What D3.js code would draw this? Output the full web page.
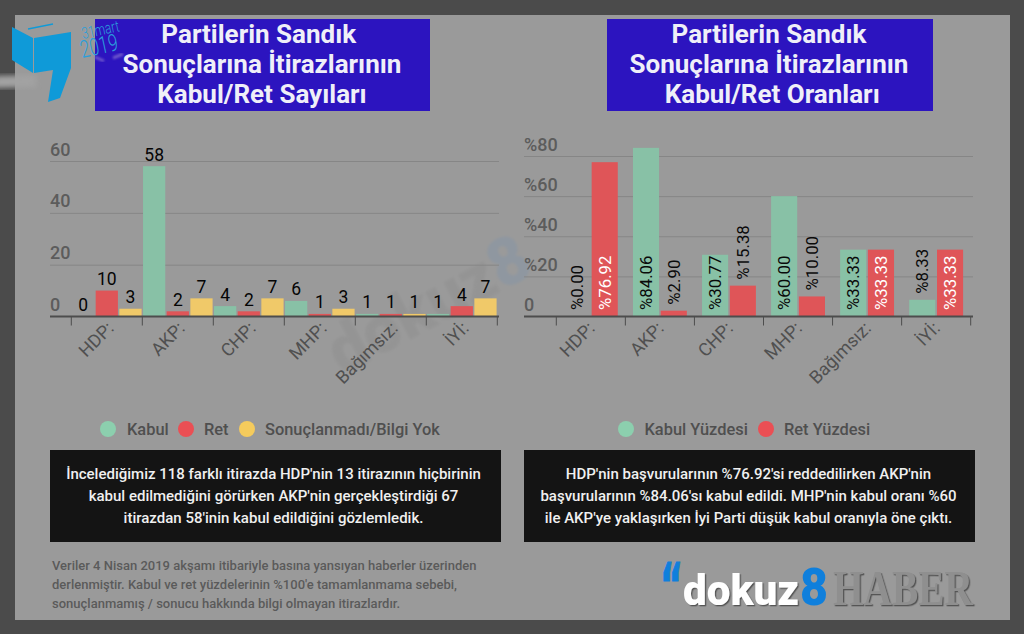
<!DOCTYPE html>
<html><head><meta charset="utf-8">
<script src="https://cdn.jsdelivr.net/npm/d3@7"></script>
<style>
html,body{margin:0;padding:0;background:#4b4b4b;}
svg{display:block;}
text{font-family:Roboto,sans-serif;}
</style></head><body>
<svg id="c" width="1024" height="634"></svg>
<script>
const parties1 = ["HDP:","AKP:","CHP:","MHP:","Bağımsız:","İYİ:"];
const seriesNames1 = ["Kabul","Ret","Sonuçlanmadı/Bilgi Yok"];
const kabulCounts = [0,58,4,6,1,1];
const retCounts = [10,2,2,1,1,4];
const sonucCounts = [3,7,7,3,1,7];
const yTicks1 = [0,20,40,60];
const seriesNames2 = ["Kabul Yüzdesi","Ret Yüzdesi"];
const kabulPct = [0.00,84.06,30.77,60.00,33.33,8.33];
const retPct = [76.92,2.90,15.38,10.00,33.33,33.33];
const yTicks2 = [0,20,40,60,80];
const titles1 = ["Partilerin Sandık\u00a0","Sonuçlarına İtirazlarının","Kabul/Ret Sayıları"];
const titles2 = ["Partilerin Sandık","Sonuçlarına İtirazlarının","\u00a0Kabul/Ret Oranları"];
const note1 = ["İncelediğimiz 118 farklı itirazda HDP'nin 13 itirazının hiçbirinin","kabul edilmediğini görürken AKP'nin gerçekleştirdiği 67","itirazdan 58'inin kabul edildiğini gözlemledik."];
const note2 = ["HDP'nin başvurularının %76.92'si reddedilirken AKP'nin","başvurularının %84.06'sı kabul edildi. MHP'nin kabul oranı %60","ile AKP'ye yaklaşırken İyi Parti düşük kabul oranıyla öne çıktı."];
const footnote = ["Veriler 4 Nisan 2019 akşamı itibariyle basına yansıyan haberler üzerinden","derlenmiştir. Kabul ve ret yüzdelerinin %100'e tamamlanmama sebebi,","sonuçlanmamış / sonucu hakkında bilgi olmayan itirazlardır."];
const colKabul="#88c1a6", colRet="#df5558", colSonuc="#f0c969";

const svg=d3.select("#c");
const defs=svg.append("defs");
defs.append("filter").attr("id","soft").append("feGaussianBlur").attr("stdDeviation",1.2);
defs.append("filter").attr("id","softer").attr("x","-20%").attr("width","140%").append("feGaussianBlur").attr("stdDeviation",2.5);
defs.append("filter").attr("id","shadow").append("feDropShadow").attr("dx",1.3).attr("dy",1.3).attr("stdDeviation",.4).attr("flood-color","#555555");
svg.append("rect").attr("x",0).attr("y",0).attr("width",1024).attr("height",634).attr("fill","#4b4b4b");
svg.append("rect").attr("x",15).attr("y",15).attr("width",995).attr("height",605).attr("fill","#9a9a9a");

// faint watermark
const wm=svg.append("g");
wm.append("path").attr("d","M-5 76 L36 75 L36 87 L-5 88Z").attr("fill","#a2a2a2").attr("filter","url(#softer)");
wm.append("text").attr("transform","translate(342,376) rotate(-28)").attr("font-size",66).attr("font-weight",900).attr("filter","url(#soft)")
  .selectAll("tspan").data([["dokuz","#949494"],["8","#8f97a0"]]).join("tspan").attr("fill",d=>d[1]).text(d=>d[0]);

// title boxes
svg.append("rect").attr("x",95).attr("y",19).attr("width",335).attr("height",92).attr("fill","#2c14bf");
svg.append("rect").attr("x",607).attr("y",19).attr("width",326).attr("height",92).attr("fill","#2c14bf");

// election logo
const logo=svg.append("g");
logo.append("path").attr("d","M12 27 L33 38 L33 73 L12 60Z M34 38 L71 32 L71 68 L60 98 L48 102 L53 70 L34 73Z").attr("fill","#0f9ad8");
logo.append("path").attr("d","M28 29 L53 24").attr("stroke","#0f9ad8").attr("stroke-width",1.5);
logo.append("text").attr("x",83).attr("y",39).attr("font-size",16).attr("font-weight",300).attr("fill","#2a9fdc").attr("textLength",38).attr("lengthAdjust","spacingAndGlyphs").attr("transform","rotate(-12 83 39)").text("31mart");
logo.append("text").attr("x",82).attr("y",58).attr("font-size",24).attr("font-weight",300).attr("fill","#2a9fdc").attr("textLength",38).attr("lengthAdjust","spacingAndGlyphs").attr("transform","rotate(-12 82 58)").text("2019");
logo.append("path").attr("d","M95 57 L104 61 M113 58 L123 54").attr("stroke","#7d68cf").attr("stroke-width",3).attr("opacity",.8).attr("filter","url(#soft)");

function multi(lines,cx,y0,dy,size,weight,fill,anchor){
  const g=svg.append("g");
  g.selectAll("text").data(lines).join("text")
   .attr("x",cx).attr("y",(d,i)=>y0+i*dy).attr("text-anchor",anchor||"middle")
   .attr("font-size",size).attr("font-weight",weight).attr("fill",fill).text(d=>d);
}
multi(titles1,262,42.5,30,26,700,"#efeff8");
multi(titles2,769,42.5,30,26,700,"#efeff8");

function chart(o){
  const g=svg.append("g");
  const y=d3.scaleLinear().domain(o.domain).range([o.y0,o.y1]);
  const x=d3.scaleBand().domain(parties1).range(o.xr).paddingInner(o.padI).paddingOuter(o.padO);
  const x1=d3.scaleBand().domain(o.series.map(s=>s.name)).range([0,x.bandwidth()]).paddingInner(o.subPad);
  const step=(o.xr[1]-o.xr[0])/parties1.length;
  // grid
  g.append("g").selectAll("line").data(o.ticks.filter(d=>d>0)).join("line")
    .attr("x1",o.ax0).attr("x2",o.ax1).attr("y1",d=>y(d)+.5).attr("y2",d=>y(d)+.5).attr("stroke","#868686").attr("stroke-width",1);
  // y labels
  g.append("g").selectAll("text").data(o.ticks).join("text")
    .attr("x",o.ax0).attr("y",d=>y(d)+o.yLabDy).attr("font-size",18).attr("font-weight",500).attr("fill","#5c5c5c")
    .text(o.yFmt);
  // bars
  o.series.forEach(s=>{
    g.append("g").selectAll("rect").data(s.values).join("rect")
      .attr("x",(d,i)=>x(parties1[i])+x1(s.name)).attr("width",x1.bandwidth())
      .attr("y",d=>y(d)).attr("height",d=>y(0)-y(d)).attr("fill",s.color);
  });
  // axis
  const axis=d3.axisBottom(x).tickValues([]).tickSize(0);
  const ag=g.append("g").attr("transform",`translate(0,${o.y0})`).call(axis);
  ag.select("path").remove();
  ag.append("line").attr("x1",o.ax0).attr("x2",o.ax1).attr("stroke","#4d4d4d").attr("stroke-width",2);
  d3.range(parties1.length+1).forEach(i=>{
    ag.append("line").attr("x1",o.xr[0]+i*step).attr("x2",o.xr[0]+i*step).attr("y1",0).attr("y2",9).attr("stroke","#4d4d4d").attr("stroke-width",1);
  });
  // category labels
  g.append("g").selectAll("text").data(parties1).join("text")
    .attr("text-anchor","end").attr("font-size",18).attr("fill","#505050")
    .attr("transform",d=>`translate(${x(d)+x.bandwidth()/2+o.labDx},${o.y0+13}) rotate(-45)`)
    .text(d=>d);
  // value labels
  o.labels(g,x,x1,y);
}

chart({
  domain:[0,60],y0:316.5,y1:161,xr:[71.3,497.3],ax0:50,ax1:499,padI:0.02,padO:0.01,subPad:0.06,
  ticks:yTicks1,yFmt:d=>d,yLabDy:-5.5,labDx:8,
  series:[{name:seriesNames1[0],values:kabulCounts,color:colKabul},{name:seriesNames1[1],values:retCounts,color:colRet},{name:seriesNames1[2],values:sonucCounts,color:colSonuc}],
  labels(g,x,x1,y){
    this.series.forEach(s=>{
      g.append("g").selectAll("text").data(s.values).join("text")
       .attr("x",(d,i)=>x(parties1[i])+x1(s.name)+x1.bandwidth()/2)
       .attr("y",d=>y(d)-5.5).attr("text-anchor","middle").attr("font-size",17.5).attr("font-weight",400).attr("fill","#050505")
       .text(d=>d);
    });
  }
});
chart({
  domain:[0,80],y0:316.5,y1:156,xr:[556.3,970.7],ax0:524,ax1:973,padI:0.22,padO:0.11,subPad:0.06,
  ticks:yTicks2,yFmt:d=>d===0?"0":"%"+d,yLabDy:-5.5,labDx:5,
  series:[{name:seriesNames2[0],values:kabulPct,color:colKabul},{name:seriesNames2[1],values:retPct,color:colRet}],
  labels(g,x,x1,y){
    this.series.forEach((s,si)=>{
      g.append("g").selectAll("text").data(s.values).join("text")
       .attr("transform",(d,i)=>{
         const cx=x(parties1[i])+x1(s.name)+x1.bandwidth()/2+6;
         const inside=y(0)-y(d)>58;
         return `translate(${cx},${inside?310:(d===0?310:y(d)-6)}) rotate(-90)`;
       })
       .attr("font-size",16.8).attr("fill",(d)=> (si===1&&y(0)-y(d)>58)?"#ffffff":"#0a0a0a")
       .text(d=>"%"+d.toFixed(2));
    });
  }
});

// legends
function legend(items,y){
  items.forEach(it=>{
    svg.append("circle").attr("cx",it.cx).attr("cy",y).attr("r",8).attr("fill",it.c);
    svg.append("text").attr("x",it.tx).attr("y",y+6).attr("font-size",16.4).attr("font-weight",500).attr("fill","#4f4f4f").text(it.t);
  });
}
legend([{cx:108,tx:127,c:"#8ccfae",t:seriesNames1[0]},{cx:186,tx:204,c:"#ea4f54",t:seriesNames1[1]},{cx:247,tx:265,c:"#f5cb5c",t:seriesNames1[2]}],429);
legend([{cx:626,tx:644.5,c:"#8ccfae",t:seriesNames2[0]},{cx:766,tx:784,c:"#ea4f54",t:seriesNames2[1]}],429);

// note boxes
svg.append("rect").attr("x",50).attr("y",450).attr("width",451).attr("height",92).attr("fill","#141414");
svg.append("rect").attr("x",524).attr("y",450).attr("width",451).attr("height",92).attr("fill","#141414");
multi(note1,273.5,479,22,15,500,"#f0f0f0");
multi(note2,748.5,479,22,15,500,"#f0f0f0");
multi(footnote,52,570,19,13,500,"#5a5a5a","start");

// brand
const b=svg.append("g");
b.append("text").attr("x",660).attr("y",606).attr("font-size",60).attr("font-weight",700).attr("fill","#0f7fdc").attr("stroke","#0f7fdc").attr("stroke-width",1.2).attr("textLength",23).attr("lengthAdjust","spacingAndGlyphs").attr("style","font-family:'DejaVu Sans',sans-serif").text("“");
b.append("text").attr("x",683).attr("y",604.5).attr("font-size",43).attr("font-weight",900).attr("fill","#ffffff").attr("textLength",116).attr("lengthAdjust","spacingAndGlyphs").attr("filter","url(#shadow)").text("dokuz");
b.append("text").attr("x",800).attr("y",604.5).attr("font-size",51).attr("font-weight",900).attr("fill","#0f7fdc").attr("textLength",28).attr("lengthAdjust","spacingAndGlyphs").text("8");
b.append("text").attr("x",833).attr("y",605).attr("font-size",50).attr("font-weight",700).attr("fill","#8f8f8f").attr("textLength",140).attr("lengthAdjust","spacingAndGlyphs").attr("filter","url(#shadow)").attr("style","font-family:'Liberation Serif',serif").text("HABER");
</script>
</body></html>
